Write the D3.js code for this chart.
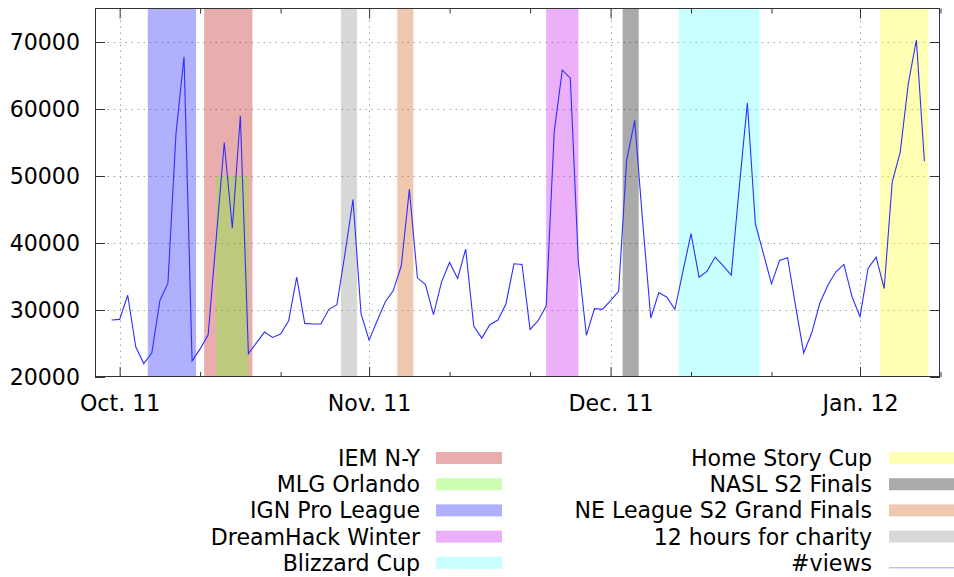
<!DOCTYPE html>
<html>
<head>
<meta charset="utf-8">
<script src="https://cdn.jsdelivr.net/npm/d3@7"></script>
<style>
  body { margin: 0; background: #fff; }
  svg { display: block; font-family: "DejaVu Sans", sans-serif; }
</style>
</head>
<body>
<svg id="chart" width="954" height="577"></svg>
<script>
// Daily view counts, one value per day starting on firstDay
const firstDay = "2011-09-30";
const views = [
  28500, 28600, 32200, 24500, 22000, 23600, 31400, 34000, 56300, 67800,
  22400, 24200, 26300, 40700, 55000, 42200, 59000, 23500, 25100, 26700,
  25900, 26400, 28400, 34900, 28000, 27900, 27900, 30100, 30800, 38400,
  46500, 29400, 25500, 28400, 31200, 32900, 36600, 48000, 34800, 33800,
  29300, 34200, 37100, 34700, 39100, 27600, 25800, 27800, 28500, 30900,
  36900, 36800, 27100, 28400, 30600, 56600, 65800, 64600, 37200, 26200,
  30200, 30100, 31400, 32800, 52300, 58300, 43000, 28800, 32600, 31900,
  30100, 35800, 41400, 34900, 35800, 37900, 36600, 35200, 48400, 60900,
  42800, 38400, 33900, 37400, 37800, 30500, 23600, 26600, 31000, 33700,
  35700, 36800, 32000, 29000, 36200, 37900, 33200, 49100, 53600, 63800,
  70300, 52200
];

// Tournaments shown as shaded periods (null top = full height)
const eventNames = [
  "IEM N-Y", "MLG Orlando", "IGN Pro League", "DreamHack Winter", "Blizzard Cup",
  "Home Story Cup", "NASL S2 Finals", "NE League S2 Grand Finals", "12 hours for charity"
];
const eventStarts = [
  "2011-10-11 12", "2011-10-13 00", "2011-10-04 12", "2011-11-23 00", "2011-12-09 12",
  "2012-01-03 12", "2011-12-02 12", "2011-11-04 12", "2011-10-28 12"
];
const eventEnds = [
  "2011-10-17 12", "2011-10-17 00", "2011-10-10 12", "2011-11-27 00", "2011-12-19 12",
  "2012-01-09 12", "2011-12-04 12", "2011-11-06 12", "2011-10-30 12"
];
const eventTops = [null, 50000, null, null, null, null, null, null, null];

const yTicks = [20000, 30000, 40000, 50000, 60000, 70000];
const xDomain = ["2011-09-28 00", "2012-01-11 00"];
const lineLabel = "#views";

// Fill colours, laid down semi-transparent
const eventColors = [
  "rgb(189,24,24)", "rgb(109,255,35)", "rgb(29,29,255)", "rgb(201,29,241)", "rgb(98,255,255)",
  "rgb(255,255,41)", "rgb(12,12,12)", "rgb(212,98,29)", "rgb(144,144,144)"
];
const fillOpacity = 0.35;
const lineColor = "#2f2fff";
const fontSize = 22.1;

const parseT = d3.utcParse("%Y-%m-%d %H");
const parseD = d3.utcParse("%Y-%m-%d");
const firstDate = parseD(firstDay);
const series = views.map((v, i) => ({ date: d3.utcDay.offset(firstDate, i), value: v }));
const events = eventNames.map((name, i) => ({
  name, start: parseT(eventStarts[i]), end: parseT(eventEnds[i]),
  top: eventTops[i], color: eventColors[i]
}));

const svg = d3.select("#chart");
const plotL = 95.5, plotR = 940.5, plotT = 8.5, plotB = 377;

const x = d3.scaleUtc().domain(xDomain.map(parseT)).range([plotL, plotR]);
const y = d3.scaleLinear().domain([20000, 75000]).range([plotB, plotT]);

// grid
const monthStarts = d3.utcMonth.range(x.domain()[0], x.domain()[1]);
const minorTicks = d3.utcDay.range(x.domain()[0], d3.utcDay.offset(x.domain()[1], 1))
  .filter(d => d.getUTCDate() === 11 || d.getUTCDate() === 21);

const grid = svg.append("g").attr("stroke", "#a0a0a0").attr("stroke-width", 1)
  .attr("stroke-dasharray", "1.5,4.5").attr("fill", "none");
grid.selectAll("line.h").data(yTicks.filter(t => t > 20000)).join("line")
  .attr("x1", plotL).attr("x2", plotR)
  .attr("y1", d => Math.round(y(d)) + 0.5).attr("y2", d => Math.round(y(d)) + 0.5);
grid.selectAll("line.v").data(monthStarts).join("line")
  .attr("x1", d => Math.round(x(d)) + 0.5).attr("x2", d => Math.round(x(d)) + 0.5)
  .attr("y1", plotT).attr("y2", plotB);

// shaded event periods
svg.append("g").selectAll("rect").data(events).join("rect")
  .attr("x", d => x(d.start))
  .attr("width", d => x(d.end) - x(d.start))
  .attr("y", d => d.top == null ? plotT : y(d.top))
  .attr("height", d => plotB - (d.top == null ? plotT : y(d.top)))
  .attr("fill", d => d.color)
  .attr("fill-opacity", fillOpacity);

// view count line
svg.append("path").datum(series)
  .attr("fill", "none").attr("stroke", lineColor).attr("stroke-width", 1.1)
  .attr("stroke-linejoin", "miter")
  .attr("d", d3.line().x(d => x(d.date)).y(d => y(d.value)));

// axes (ticks point inward, mirrored on top and right)
const fmt = d3.utcFormat("%b. %y");
function style(g) {
  g.select(".domain").remove();
  g.selectAll(".tick line").attr("stroke", "#333");
  g.selectAll(".tick text").attr("fill", "#000").attr("font-size", fontSize)
    .attr("font-family", "DejaVu Sans, sans-serif");
}
svg.append("g").attr("transform", `translate(0,${plotB})`)
  .call(d3.axisBottom(x).tickValues(monthStarts).tickFormat(fmt).tickSize(-10).tickPadding(18))
  .call(style);
svg.append("g").attr("transform", `translate(0,${plotB})`)
  .call(d3.axisBottom(x).tickValues(minorTicks).tickFormat("").tickSize(-5))
  .call(style);
svg.append("g").attr("transform", `translate(0,${plotT})`)
  .call(d3.axisTop(x).tickValues(monthStarts).tickFormat("").tickSize(-10))
  .call(style);
svg.append("g").attr("transform", `translate(0,${plotT})`)
  .call(d3.axisTop(x).tickValues(minorTicks).tickFormat("").tickSize(-5))
  .call(style);
svg.append("g").attr("transform", `translate(${plotL - 0.5},0)`)
  .call(d3.axisLeft(y).tickValues(yTicks).tickFormat(d3.format("d")).tickSize(-10).tickPadding(15))
  .call(style);
svg.append("g").attr("transform", `translate(${plotR - 0.5},0)`)
  .call(d3.axisRight(y).tickValues(yTicks).tickFormat("").tickSize(-10))
  .call(style);

// plot border
svg.append("rect").attr("x", plotL).attr("y", plotT)
  .attr("width", plotR - plotL - 1).attr("height", plotB - plotT - 0.5)
  .attr("fill", "none").attr("stroke", "#333").attr("stroke-width", 1);

// legend: two columns of five rows
const rowY = i => 458 + i * 26.2;
const cols = [{ textX: 420, swX: 436 }, { textX: 872, swX: 889 }];
const swW = 66, swH = 12;
const legendItems = events.map(e => ({ name: e.name, color: e.color, line: false }))
  .concat([{ name: lineLabel, line: true }]);
const leg = svg.append("g").attr("font-size", fontSize);
legendItems.forEach((it, i) => {
  const c = cols[Math.floor(i / 5)], r = i % 5, cy = rowY(r);
  leg.append("text").attr("x", c.textX).attr("y", cy + 8)
    .attr("text-anchor", "end").attr("fill", "#000").text(it.name);
  if (it.line) {
    leg.append("line").attr("x1", c.swX).attr("x2", c.swX + swW)
      .attr("y1", cy + 5).attr("y2", cy + 5)
      .attr("stroke", lineColor).attr("stroke-width", 1).attr("stroke-opacity", 0.45);
  } else {
    leg.append("rect").attr("x", c.swX).attr("y", cy - swH / 2)
      .attr("width", swW).attr("height", swH)
      .attr("fill", it.color).attr("fill-opacity", fillOpacity);
  }
});
</script>
</body>
</html>
